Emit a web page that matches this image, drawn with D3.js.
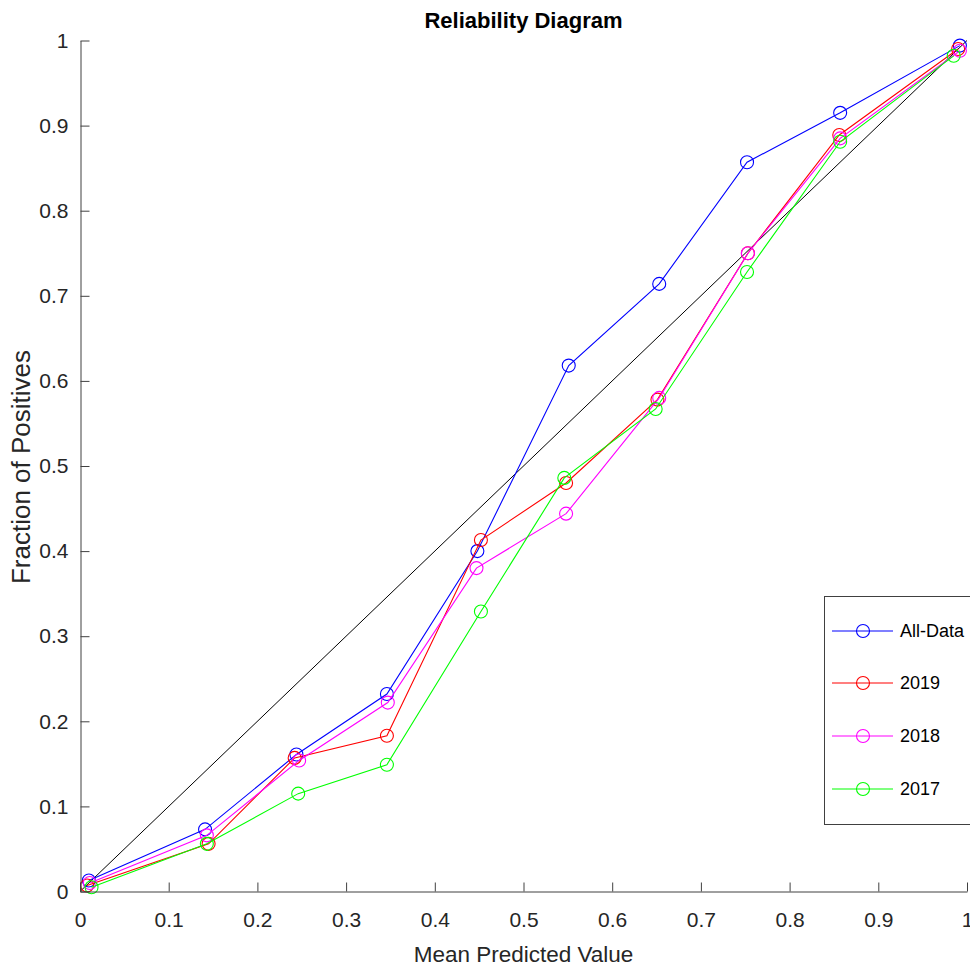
<!DOCTYPE html>
<html>
<head>
<meta charset="utf-8">
<script src="https://cdn.jsdelivr.net/npm/d3@7"></script>
<style>
  html, body { margin: 0; padding: 0; background: #fff; }
  svg { display: block; font-family: "Liberation Sans", Arial, Helvetica, sans-serif; }
</style>
</head>
<body>
<svg id="chart" width="970" height="967"></svg>
<script>
// ---- data ----
const seriesNames = ["All-Data", "2019", "2018", "2017"];
const seriesColors = ["#0000ff", "#ff0000", "#ff00ff", "#00ff00"];

const xAll  = [0.010, 0.141, 0.244, 0.346, 0.448, 0.551, 0.653, 0.752, 0.857, 0.992];
const yAll  = [0.013, 0.073, 0.161, 0.232, 0.400, 0.618, 0.714, 0.857, 0.915, 0.994];

const x2019 = [0.008, 0.145, 0.242, 0.346, 0.452, 0.548, 0.651, 0.753, 0.856, 0.990];
const y2019 = [0.007, 0.056, 0.157, 0.183, 0.413, 0.480, 0.578, 0.750, 0.889, 0.990];

const x2018 = [0.011, 0.143, 0.247, 0.347, 0.447, 0.548, 0.653, 0.753, 0.857, 0.992];
const y2018 = [0.010, 0.066, 0.154, 0.222, 0.380, 0.444, 0.580, 0.750, 0.885, 0.988];

const x2017 = [0.013, 0.143, 0.246, 0.346, 0.452, 0.546, 0.649, 0.752, 0.857, 0.985];
const y2017 = [0.005, 0.056, 0.115, 0.149, 0.329, 0.486, 0.567, 0.728, 0.881, 0.982];

const diagX = [0, 1];
const diagY = [0, 1];

const xTicks = [0, 0.1, 0.2, 0.3, 0.4, 0.5, 0.6, 0.7, 0.8, 0.9, 1];
const yTicks = [0, 0.1, 0.2, 0.3, 0.4, 0.5, 0.6, 0.7, 0.8, 0.9, 1];

const titleText = "Reliability Diagram";
const xLabelText = "Mean Predicted Value";
const yLabelText = "Fraction of Positives";

// ---- build ----
const seriesX = [xAll, x2019, x2018, x2017];
const seriesY = [yAll, y2019, y2018, y2017];
const series = seriesNames.map((name, i) => ({
  name, color: seriesColors[i],
  pts: seriesX[i].map((x, j) => ({ x, y: seriesY[i][j] }))
}));

const svg = d3.select("#chart");
const L = 80, R = 967, T = 40.5, B = 891.5;

const x = d3.scaleLinear().domain([0, 1]).range([L, R]);
const y = d3.scaleLinear().domain([0, 1]).range([B, T]);

const axisColor = "#404040";
const textColor = "#262626";

// diagonal
const line = d3.line().x(d => x(d.x)).y(d => y(d.y));
svg.append("path")
  .datum(diagX.map((v, i) => ({ x: v, y: diagY[i] })))
  .attr("d", line)
  .attr("fill", "none").attr("stroke", "#000").attr("stroke-width", 1);

// series
series.forEach(s => {
  const g = svg.append("g");
  g.append("path").datum(s.pts).attr("d", line)
    .attr("fill", "none").attr("stroke", s.color).attr("stroke-width", 1.1);
  g.selectAll("circle").data(s.pts).enter().append("circle")
    .attr("cx", d => x(d.x)).attr("cy", d => y(d.y)).attr("r", 6.5)
    .attr("fill", "none").attr("stroke", s.color).attr("stroke-width", 1.1);
});

// axes
const xAxis = d3.axisBottom(x).tickValues(xTicks).tickSizeInner(-9).tickSizeOuter(0)
  .tickPadding(21).tickFormat(d3.format("~g"));
const gx = svg.append("g").attr("transform", `translate(0,${B})`).call(xAxis);
gx.select(".domain").attr("stroke", axisColor);
gx.selectAll(".tick line").attr("stroke", axisColor);
gx.selectAll(".tick text").attr("fill", textColor).style("font-size", "21px")
  .attr("font-family", "Liberation Sans, Arial, sans-serif");

const yAxis = d3.axisLeft(y).tickValues(yTicks).tickSizeInner(-9).tickSizeOuter(0)
  .tickPadding(12).tickFormat(d3.format("~g"));
const gy = svg.append("g").attr("transform", `translate(${L + 0.5},0)`).call(yAxis);
gy.select(".domain").attr("stroke", axisColor);
gy.selectAll(".tick line").attr("stroke", axisColor);
gy.selectAll(".tick text").attr("fill", textColor).style("font-size", "21px")
  .attr("font-family", "Liberation Sans, Arial, sans-serif");

// title
svg.append("text").attr("x", (L + R) / 2).attr("y", 28)
  .attr("text-anchor", "middle").attr("font-weight", "bold")
  .style("font-size", "22px").attr("fill", "#000").text(titleText);

// x label
svg.append("text").attr("x", (L + R) / 2).attr("y", 962)
  .attr("text-anchor", "middle").style("font-size", "22.5px")
  .attr("fill", textColor).text(xLabelText);

// y label
svg.append("text").attr("transform", `translate(30,${(T + B) / 2 + 1}) rotate(-90)`)
  .attr("text-anchor", "middle").style("font-size", "26px")
  .attr("fill", textColor).text(yLabelText);

// legend
const lg = svg.append("g");
lg.append("rect").attr("x", 824.5).attr("y", 596.5).attr("width", 150).attr("height", 228)
  .attr("fill", "#fff").attr("stroke", axisColor).attr("stroke-width", 1);
const rowY = [631, 683, 736, 789];
series.forEach((s, i) => {
  lg.append("line").attr("x1", 832).attr("x2", 893).attr("y1", rowY[i]).attr("y2", rowY[i])
    .attr("stroke", s.color).attr("stroke-width", 1.1);
  lg.append("circle").attr("cx", 863).attr("cy", rowY[i]).attr("r", 6.5)
    .attr("fill", "none").attr("stroke", s.color).attr("stroke-width", 1.1);
  lg.append("text").attr("x", 900).attr("y", rowY[i]).attr("dy", "0.35em")
    .style("font-size", "18px").attr("fill", "#000").text(s.name);
});
</script>
</body>
</html>
